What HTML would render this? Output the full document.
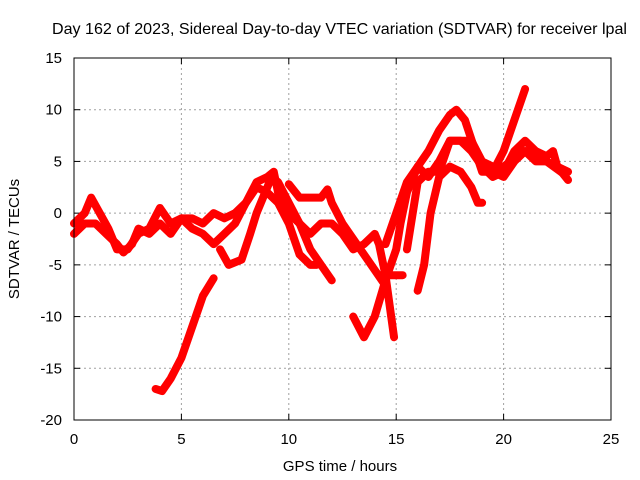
<!DOCTYPE html>
<html><head><meta charset="utf-8"><style>
body{margin:0;background:#fff;width:640px;height:480px;overflow:hidden}
svg{display:block;font-family:"Liberation Sans",sans-serif}
</style></head><body>
<svg id="chart" width="640" height="480" viewBox="0 0 640 480" xmlns="http://www.w3.org/2000/svg"></svg>
<script>
const xTicks=[0,5,10,15,20,25];
const yTicks=[15,10,5,0,-5,-10,-15,-20];
const trackA=[[0,-1],[0.5,0],[0.8,1.5],[1.2,0],[1.6,-1.5],[2,-3.5],[2.5,-3.5],[3,-2],[3.5,-1.5],[4,0.5],[4.5,-1],[5,-0.5],[5.5,-0.5],[6,-1],[6.5,0],[7,-0.5],[7.5,0],[8,1],[8.5,3],[9,3.5],[9.3,4],[9.5,2],[10,0],[10.5,-1],[11,-3.5],[11.5,-5],[12,-6.5]];
const trackB=[[0,-2],[0.5,-1],[1,-1],[1.5,-2],[2,-3],[2.3,-3.8],[2.7,-3],[3,-1.5],[3.5,-2],[4,-1],[4.5,-2],[5,-0.5],[5.5,-1.5],[6,-2],[6.5,-3],[7,-2],[7.5,-1],[8,1],[8.5,2.5],[9,2],[9.5,1],[10,-1],[10.5,-4],[11,-5],[11.3,-5]];
const trackC=[[3.8,-17],[4.1,-17.2],[4.5,-16],[5,-14],[5.5,-11],[6,-8],[6.5,-6.3]];
const trackD=[[6.8,-3.5],[7.2,-5],[7.8,-4.5],[8.2,-2],[8.5,0],[9,2.5],[9.2,3.5],[9.5,3],[10,1],[10.5,-1],[11,-2],[11.5,-1],[12,-1],[12.5,-2],[13,-3.5],[13.5,-3],[14,-2],[14.2,-3],[14.5,-6],[14.7,-9],[14.9,-12]];
const trackE=[[10,2.8],[10.5,1.5],[11,1.5],[11.5,1.5],[11.8,2.3],[12,1],[12.5,-1],[13,-2.5],[13.5,-4],[14,-5.5],[14.5,-7]];
const trackF=[[13,-10],[13.5,-12],[14,-10],[14.5,-6.5],[15,-3.5],[15.2,-1],[15.5,2],[16,4.5],[16.5,6],[17,8],[17.5,9.5],[17.8,10],[18.2,9],[18.6,6.5],[19,4],[19.5,4],[20,3.5],[20.5,5],[21,6],[21.5,5],[22,5],[22.5,4.5],[23,4]];
const trackG=[[14.3,-6],[15.3,-6]];
const trackH=[[16,-7.5],[16.3,-5],[16.6,0],[17,3.5],[17.5,4.5],[18,4],[18.5,2.5],[18.8,1],[19,1]];
const trackI=[[14.5,-3],[15,0],[15.5,3],[16,4.5],[16.5,3.5],[17,5],[17.5,7],[18,7],[18.5,6],[19,4.5],[19.5,3.5],[20,4],[20.5,6],[21,7],[21.5,6],[22,5.5],[22.3,6],[22.5,4.5],[23,3.2]];
const trackJ=[[19.5,4],[20,6],[20.5,9],[21,12]];
const trackK=[[15.5,-3.5],[16,3],[16.5,4],[17,4],[17.5,7],[18.5,7],[19,5],[19.5,4.5],[20,4.5],[21,6],[22,5],[22.8,3.8]];
const tracks=[trackA,trackB,trackC,trackD,trackE,trackF,trackG,trackH,trackI,trackJ,trackK];

const L=74,R=611,T=58,B=420;
const xs=v=>L+(v-0)/(25-0)*(R-L);
const ys=v=>B-(v+20)/(35)*(B-T);
const svg=document.getElementById('chart');
const NS='http://www.w3.org/2000/svg';
function mk(tag,attrs){const e=document.createElementNS(NS,tag);for(const k in attrs)e.setAttribute(k,attrs[k]);svg.appendChild(e);return e;}

xTicks.forEach(t=>{
  if(t>0&&t<25){const g=mk('line',{x1:xs(t),x2:xs(t),y1:T,y2:B,stroke:'#a0a0a0','stroke-dasharray':'2,3','stroke-width':1});
  
  }
  const tk=mk('text',{x:xs(t),y:444,'text-anchor':'middle','font-size':15,fill:'#000'});tk.textContent=t;
  
  
  mk('line',{x1:xs(t),x2:xs(t),y1:B,y2:B-6,stroke:'#000'});
  mk('line',{x1:xs(t),x2:xs(t),y1:T,y2:T+6,stroke:'#000'});
});
yTicks.forEach(t=>{
  if(t<15&&t>-20){const g=mk('line',{x1:L,x2:R,y1:ys(t),y2:ys(t),stroke:'#a0a0a0','stroke-dasharray':'2,3','stroke-width':1});
  
  }
  const tk=mk('text',{x:62,y:ys(t)+5,'text-anchor':'end','font-size':15,fill:'#000'});tk.textContent=t;
  
  
  mk('line',{x1:L,x2:L+6,y1:ys(t),y2:ys(t),stroke:'#000'});
  mk('line',{x1:R,x2:R-6,y1:ys(t),y2:ys(t),stroke:'#000'});
});
tracks.forEach((tr,i)=>{
  const p=mk('polyline',{points:tr.map(d=>xs(d[0])+','+ys(d[1])).join(' '),fill:'none',stroke:'#ff0000','stroke-width':8,'stroke-linejoin':'round','stroke-linecap':'round'});
  
  
});
const border=mk('rect',{x:L,y:T,width:R-L,height:B-T,fill:'none',stroke:'#000','stroke-width':1});


const title=mk('text',{x:52,y:34,'font-size':16,fill:'#000',textLength:575,lengthAdjust:'spacingAndGlyphs'});
title.textContent='Day 162 of 2023, Sidereal Day-to-day VTEC variation (SDTVAR) for receiver lpal';


const xl=mk('text',{x:340,y:471,'text-anchor':'middle','font-size':15,fill:'#000'});
xl.textContent='GPS time / hours';


const yl=mk('text',{x:0,y:0,'text-anchor':'middle','font-size':15,fill:'#000',transform:'translate(19,239) rotate(-90)'});
yl.textContent='SDTVAR / TECUs';


</script>
</body></html>
